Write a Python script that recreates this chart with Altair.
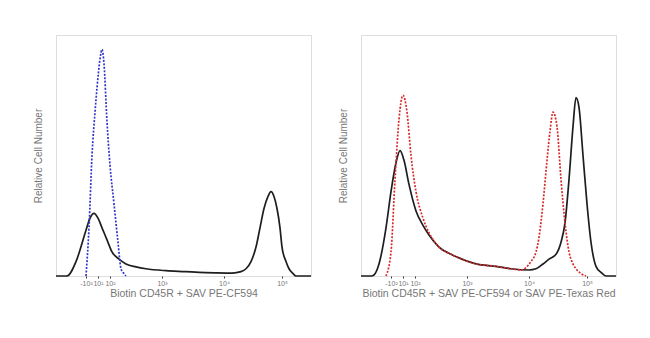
import altair as alt
import pandas as pd

# ---- data (x in display units 0..255 of the biexponential axis, y in % of max) ----
left_black_x = [0, 11, 20, 30, 34, 38, 42, 46, 51, 56, 63, 70, 80, 90, 110, 130, 143, 160, 176, 185, 190, 195, 200, 204, 208, 212, 215, 218, 221, 224, 226, 230, 233, 237, 240, 255]
left_black_y = [0, 0, 6, 19, 24, 26, 24, 20, 15, 10, 7, 5, 3.8, 3, 2.2, 1.8, 1.5, 1.3, 1.2, 1.8, 3, 6, 12, 20, 28, 33, 35, 33, 28, 20, 12, 6, 3, 1, 0, 0]

left_blue_x = [30, 33, 36, 39, 41, 44, 46, 48, 51, 54, 58, 62, 65, 68, 70]
left_blue_y = [0, 20, 50, 68, 78, 90, 94, 88, 64, 46, 30, 14, 3, 1, 0]

right_black_x = [0, 11, 18, 25, 30, 35, 39, 43, 48, 55, 62, 68, 78, 90, 101, 115, 135, 150, 168, 175, 182, 188, 195, 200, 204, 208, 212, 215, 218, 222, 226, 230, 235, 240, 245, 255]
right_black_y = [0, 0, 5, 20, 35, 47, 52, 48, 38, 27, 21, 17, 12, 9, 7, 5, 4, 3, 2.5, 3, 5, 7, 9, 14, 22, 40, 62, 74, 70, 50, 30, 14, 4, 1.5, 0, 0]

right_red_x = [25, 30, 34, 38, 42, 46, 50, 55, 62, 68, 78, 90, 101, 115, 135, 150, 160, 165, 170, 175, 178, 182, 186, 189, 192, 196, 200, 204, 208, 212, 216, 220, 225]
right_red_y = [0, 10, 40, 65, 75, 68, 50, 35, 24, 18, 12, 9, 7, 5, 4, 3, 2.5, 3.5, 6, 10, 16, 30, 48, 60, 68, 62, 40, 22, 10, 5, 2.5, 1, 0]

tick_values = [30, 42, 54, 106, 168, 226]
tick_labels = ["-10²", "10¹", "10²", "10³", "10⁴", "10⁵"]

left_title = "Biotin CD45R + SAV PE-CF594"
right_title = "Biotin CD45R + SAV PE-CF594 or SAV PE-Texas Red"
y_title = "Relative Cell Number"

W, H = 255, 241

label_expr = " : ".join(
    [f"datum.value == {v} ? '{l}'" for v, l in zip(tick_values, tick_labels)]
) + " : ''"


def panel(series, xtitle):
    layers = []
    for xs, ys, color, dash, sw in series:
        df = pd.DataFrame({"x": xs, "y": ys})
        kw = dict(color=color, strokeWidth=sw, interpolate="monotone")
        if dash:
            kw["strokeDash"] = dash
        layers.append(
            alt.Chart(df).mark_line(**kw).encode(
                x=alt.X("x:Q", scale=alt.Scale(domain=[0, 255], nice=False),
                        axis=alt.Axis(values=tick_values, labelExpr=label_expr,
                                      title=xtitle, grid=False, domain=False,
                                      ticks=True, tickSize=2, tickColor="#333",
                                      labelFontSize=7, labelColor="#777",
                                      labelPadding=1, labelOverlap=False,
                                      labelFont="Liberation Sans",
                                      titleFont="Liberation Sans",
                                      titleFontSize=10.5, titleFontWeight="normal",
                                      titleColor="#777", titlePadding=2)),
                y=alt.Y("y:Q", scale=alt.Scale(domain=[0, 100], nice=False),
                        axis=alt.Axis(title=y_title, labels=False, ticks=False,
                                      grid=False, domain=False,
                                      titleFont="Liberation Sans",
                                      titleFontSize=10, titleFontWeight="normal",
                                      titleColor="#777", titlePadding=13)),
            )
        )
    return alt.layer(*layers).properties(width=W, height=H)


left = panel([
    (left_black_x, left_black_y, "#1e1e1e", None, 1.7),
    (left_blue_x, left_blue_y, "#3535c8", [2, 1.5], 1.7),
], left_title)

right = panel([
    (right_black_x, right_black_y, "#1e1e1e", None, 1.7),
    (right_red_x, right_red_y, "#d82a2a", [2, 1.5], 1.7),
], right_title)

chart = alt.hconcat(left, right, spacing=22).properties(
    padding={"left": 32, "top": 34, "right": 0, "bottom": 0},
).configure_view(stroke="#3a3a3a", strokeWidth=1.2).configure(background="white")

chart.save("out.html", embed_options={"renderer": "svg", "actions": False})
